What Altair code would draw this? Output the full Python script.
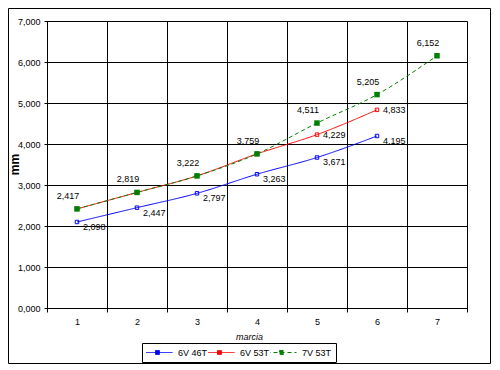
import altair as alt
import pandas as pd

# ---- data ----
marce = [1, 2, 3, 4, 5, 6, 7]
serie_6v46t = [2.098, 2.447, 2.797, 3.263, 3.671, 4.195]
serie_6v53t = [2.417, 2.819, 3.222, 3.759, 4.229, 4.833]
serie_7v53t = [2.417, 2.819, 3.222, 3.759, 4.511, 5.205, 6.152]
series_names = ["6V 46T", "6V 53T", "7V 53T"]
series_colors = ["#0000FF", "#FF0000", "#008000"]
y_ticks = [0, 1, 2, 3, 4, 5, 6, 7]

rows = []
for name, vals in zip(series_names, [serie_6v46t, serie_6v53t, serie_7v53t]):
    for m, v in zip(marce, vals):
        rows.append({"marcia": m, "mm": v, "serie": name})
df = pd.DataFrame(rows)

FONT = "Liberation Sans"

x_enc = alt.X(
    "marcia:O",
    scale=alt.Scale(domain=marce, paddingInner=0, paddingOuter=0),
    axis=alt.Axis(
        title="marcia", titleFontStyle="italic", titleFontWeight="normal",
        titleFont=FONT, titleFontSize=9, titleColor="black", titlePadding=6,
        titleX=202,
        labelAngle=0, labelFont=FONT, labelFontSize=9, labelColor="black",
        labelPadding=5, tickBand="extent", grid=True, gridColor="black",
        gridOpacity=1, gridWidth=1, domainColor="black", tickColor="black",
        tickSize=4,
    ),
)
y_enc = alt.Y(
    "mm:Q",
    scale=alt.Scale(domain=[0, 7], nice=False),
    axis=alt.Axis(
        title="mm", titleFont=FONT, titleFontSize=12, titleFontWeight="bold",
        titleColor="black", titleX=-29, titleY=143, titleBaseline="alphabetic",
        titleAngle=270,
        values=y_ticks, labelExpr="replace(format(datum.value, '.3f'), '.', ',')",
        labelFont=FONT, labelFontSize=9, labelColor="black", labelPadding=4,
        grid=True, gridColor="black", gridOpacity=1, gridWidth=1,
        domainColor="black", tickColor="black", tickSize=3,
    ),
)

legend = alt.Legend(
    title=None, orient="none", legendX=95, legendY=322, direction="horizontal",
    strokeColor="black", fillColor="white", padding=4, clipHeight=11,
    labelFont=FONT, labelFontSize=9, labelColor="black", labelOffset=5,
    symbolType="M-1,0H1M-0.13,-0.13H0.13V0.13H-0.13Z", symbolSize=900,
    symbolStrokeWidth=1, symbolOffset=-4, columnPadding=0,
)

color_scale = alt.Scale(domain=series_names, range=series_colors)
dash_scale = alt.Scale(domain=series_names, range=[[1, 0], [1, 0], [4, 3]])

base = alt.Chart(df)

lines = base.mark_line(interpolate="monotone", strokeWidth=1).encode(
    x=x_enc, y=y_enc,
    color=alt.Color("serie:N", scale=color_scale, legend=legend),
    strokeDash=alt.StrokeDash("serie:N", scale=dash_scale, legend=legend),
)

small_pts = base.transform_filter(
    alt.FieldOneOfPredicate(field="serie", oneOf=series_names[:2])
).mark_point(shape="square", filled=False, size=12, strokeWidth=1, opacity=1).encode(
    x=x_enc, y=y_enc,
    color=alt.Color("serie:N", scale=color_scale, legend=None),
)

big_pts = base.transform_filter(
    alt.FieldEqualPredicate(field="serie", equal=series_names[2])
).mark_point(shape="square", filled=True, size=30, opacity=1).encode(
    x=x_enc, y=y_enc,
    color=alt.Color("serie:N", scale=color_scale, legend=None),
)

label_calc = "replace(format(datum.mm, '.3f'), '.', ',')"

txt_blue = base.transform_filter(
    alt.FieldEqualPredicate(field="serie", equal=series_names[0])
).transform_calculate(lab=label_calc).mark_text(
    align="left", baseline="middle", dx=6, dy=5, font=FONT, fontSize=9, color="black"
).encode(x=x_enc, y=y_enc, text="lab:N")

txt_red = base.transform_filter(
    alt.FieldEqualPredicate(field="serie", equal=series_names[1])
).transform_filter("datum.marcia >= 5").transform_calculate(lab=label_calc).mark_text(
    align="left", baseline="middle", dx=6, dy=0, font=FONT, fontSize=9, color="black"
).encode(x=x_enc, y=y_enc, text="lab:N")

txt_green = base.transform_filter(
    alt.FieldEqualPredicate(field="serie", equal=series_names[2])
).transform_calculate(lab=label_calc).mark_text(
    align="center", baseline="middle", dx=-9, dy=-13, font=FONT, fontSize=9, color="black"
).encode(x=x_enc, y=y_enc, text="lab:N")

border = alt.Chart(pd.DataFrame({"k": [0]})).mark_rect(
    fill="white", fillOpacity=0, stroke="black", strokeWidth=1
).encode(
    x=alt.value(-38.5), x2=alt.value(443.5), y=alt.value(-12.5), y2=alt.value(342.5)
)

chart = alt.layer(
    lines, small_pts, big_pts, txt_blue, txt_red, txt_green, border
).properties(
    width=420, height=287,
    padding={"left": 39, "top": 13, "right": 24, "bottom": 57},
    autosize=alt.AutoSizeParams(type="none"),
).configure_view(
    fill="#C0C0C0", stroke="#808080", strokeWidth=1
).configure(background="white")

chart.save("out.html", embed_options={"renderer": "svg", "actions": False})
